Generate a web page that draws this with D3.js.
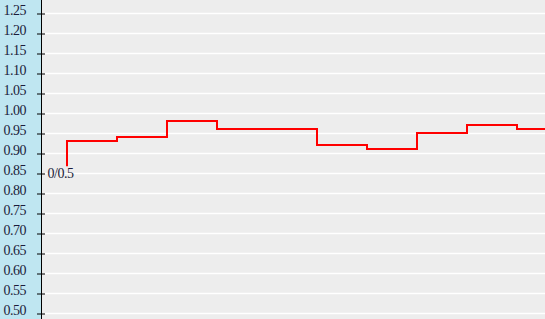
<!DOCTYPE html>
<html>
<head>
<meta charset="utf-8">
<script src="https://cdn.jsdelivr.net/npm/d3@7"></script>
<style>
  html, body { margin: 0; padding: 0; background: #ededed; overflow: hidden; }
  svg { display: block; }
</style>
</head>
<body>
<svg></svg>
<script>
// y axis tick labels
const yTicks = [0.50, 0.55, 0.60, 0.65, 0.70, 0.75, 0.80, 0.85, 0.90, 0.95, 1.00, 1.05, 1.10, 1.15, 1.20, 1.25]

// step series: x index and value
const steps = [0, 1, 2, 3, 4, 5, 6, 7, 8, 9, 10, 11]
const values = [0.867, 0.93, 0.94, 0.98, 0.96, 0.96, 0.92, 0.91, 0.95, 0.97, 0.96, 0.96]

const startLabel = "0/0.5"

const width = 545
const height = 319

const svg = d3.select("svg")
  .attr("width", width)
  .attr("height", height)

const y = d3.scaleLinear()
  .domain([0.5, 1.25])
  .range([313, 13])

const x = d3.scaleLinear()
  .domain([0, 1])
  .range([67, 117])

// background
svg.append("rect")
  .attr("width", width)
  .attr("height", height)
  .attr("fill", "#ededed")

// left panel
svg.append("rect")
  .attr("width", 41)
  .attr("height", height)
  .attr("fill", "#bfe6f1")

// grid
svg.append("g")
  .selectAll("line")
  .data(yTicks)
  .enter()
  .append("line")
  .attr("x1", 45)
  .attr("x2", width)
  .attr("y1", d => y(d) + 0.5)
  .attr("y2", d => y(d) + 0.5)
  .attr("stroke", "#ffffff")
  .attr("stroke-width", 1.5)

// axis
const axis = svg.append("g")
  .attr("transform", "translate(41.5, 0.5)")
  .call(d3.axisLeft(y).tickValues(yTicks).tickFormat(d3.format(".2f")).tickSizeOuter(0))

axis.select(".domain")
  .attr("d", "M0,-1V" + height)
  .attr("stroke", "#000")

axis.selectAll(".tick line")
  .attr("x1", -4.5)
  .attr("x2", 3.5)
  .attr("stroke", "#000")

axis.selectAll(".tick text")
  .attr("x", -15.5)
  .attr("dy", null)
  .attr("y", 0.5)
  .attr("font-family", "'Liberation Serif', serif")
  .attr("font-size", 14)
  .attr("letter-spacing", -0.5)
  .attr("fill", "#1c1c3a")

// step line
const line = d3.line()
  .x((d, i) => x(steps[i]))
  .y(d => y(d))
  .curve(d3.curveStepBefore)

svg.append("path")
  .datum(values)
  .attr("d", line)
  .attr("fill", "none")
  .attr("stroke", "#ff0000")
  .attr("stroke-width", 2)

// start label
svg.append("text")
  .attr("x", 47.5)
  .attr("y", 178)
  .attr("font-family", "'Liberation Serif', serif")
  .attr("font-size", 14)
  .attr("letter-spacing", -0.5)
  .attr("fill", "#1c1c3a")
  .text(startLabel)
</script>
</body>
</html>
